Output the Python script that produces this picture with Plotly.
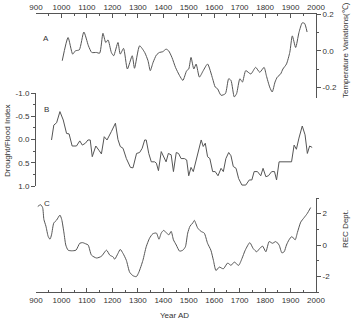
import plotly.graph_objects as go

# Panel A: temperature variations (°C)
years_a = [1003, 1026, 1044, 1055, 1070, 1088, 1106, 1119, 1137, 1150, 1163, 1174, 1183, 1196, 1205,
           1222, 1231, 1244, 1259, 1278, 1287, 1307, 1327, 1340, 1349, 1360, 1373, 1385, 1398, 1411,
           1421, 1434, 1448, 1464, 1477, 1492, 1500, 1509, 1520, 1529, 1542, 1557, 1574, 1594, 1604,
           1613, 1627, 1644, 1657, 1666, 1679, 1688, 1701, 1711, 1724, 1744, 1763, 1779, 1796, 1805,
           1818, 1828, 1839, 1848, 1861, 1870, 1884, 1897, 1907, 1920, 1933, 1946, 1955, 1965]
temp_a = [-0.054, 0.072, -0.018, 0.0, 0.005, 0.102, 0.027, -0.009, -0.009, -0.013, 0.095, 0.045, 0.059, -0.009, -0.027,
          0.045, -0.018, 0.013, -0.099, -0.027, -0.095, 0.027, -0.009, -0.054, -0.108, -0.063, -0.023, -0.009, -0.005, 0.009,
          0.0, -0.036, -0.090, -0.135, -0.161, -0.108, -0.099, -0.036, -0.099, -0.072, -0.143, -0.108, -0.072, -0.152, -0.197,
          -0.206, -0.242, -0.233, -0.152, -0.161, -0.251, -0.233, -0.152, -0.170, -0.108, -0.126, -0.090, -0.117, -0.090, -0.135,
          -0.197, -0.224, -0.170, -0.143, -0.126, -0.099, -0.072, -0.009, 0.081, 0.018, 0.099, 0.152, 0.149, 0.102]

# Panel B: drought/flood index
years_b = [961, 970, 981, 994, 1007, 1020, 1030, 1042, 1059, 1072, 1082, 1094, 1104, 1113, 1121, 1135, 1147, 1157,
           1168, 1179, 1196, 1212, 1222, 1231, 1242, 1255, 1271, 1281, 1295, 1307, 1317, 1327, 1333, 1343, 1353,
           1366, 1373, 1381, 1392, 1401, 1411, 1420, 1431, 1440, 1451, 1460, 1470, 1483, 1492, 1500, 1509, 1518,
           1529, 1539, 1549, 1557, 1565, 1574, 1583, 1594, 1604, 1615, 1627, 1636, 1646, 1657, 1666, 1675, 1686,
           1696, 1709, 1724, 1738, 1748, 1757, 1770, 1783, 1792, 1803, 1813, 1826, 1837, 1845, 1855, 1868, 1904,
           1914, 1923, 1933, 1946, 1957, 1966, 1975, 1985]
index_b = [0.01, -0.31, -0.36, -0.60, -0.42, -0.13, -0.12, 0.14, 0.14, 0.03, 0.12, 0.08, 0.01, 0.01, 0.37, 0.14, 0.23, 0.31,
           -0.06, 0.01, -0.17, -0.35, 0.0, 0.15, 0.19, 0.41, 0.60, 0.61, 0.30, 0.28, 0.19, 0.01, 0.01, 0.30, 0.48,
           0.48, 0.51, 0.67, 0.26, 0.37, 0.48, 0.30, 0.33, 0.69, 0.28, 0.30, 0.41, 0.41, 0.44, 0.78, 0.60, 0.69,
           0.44, 0.26, 0.01, 0.15, 0.08, 0.37, 0.41, 0.69, 0.69, 0.78, 0.62, 0.69, 0.41, 0.28, 0.35, 0.58, 0.62,
           0.84, 0.98, 0.98, 0.87, 0.87, 0.69, 0.69, 0.78, 0.62, 0.80, 0.78, 0.69, 0.69, 0.87, 0.48, 0.48, 0.48,
           0.12, 0.21, -0.03, -0.29, -0.10, 0.30, 0.14, 0.17]

# Panel C: REC departures
years_c = [907, 918, 926, 931, 939, 948, 955, 961, 970, 981, 994, 1001, 1010, 1017, 1026, 1040, 1057, 1072, 1083,
           1096, 1105, 1118, 1138, 1157, 1177, 1190, 1203, 1209, 1222, 1231, 1242, 1255, 1268, 1281, 1294, 1304,
           1320, 1333, 1346, 1359, 1373, 1383, 1392, 1401, 1411, 1422, 1431, 1440, 1451, 1464, 1477, 1487, 1496,
           1505, 1516, 1522, 1535, 1548, 1561, 1574, 1587, 1597, 1607, 1620, 1636, 1653, 1666, 1679, 1696, 1709,
           1722, 1740, 1753, 1767, 1779, 1790, 1803, 1816, 1829, 1842, 1855, 1866, 1875, 1884, 1894, 1905, 1918,
           1927, 1940, 1953, 1966, 1979]
rec_c = [2.46, 2.57, 2.39, 1.63, 1.20, 0.54, 0.37, 0.65, 1.41, 1.59, 1.91, 1.63, 0.76, 0.0, -0.33, -0.37, -0.33, 0.11, 0.15,
         0.07, 0.0, -0.65, -0.83, -0.72, -0.33, -0.65, -0.76, -0.91, -0.54, -0.28, -0.54, -0.98, -1.74, -1.96, -2.02, -1.74,
         -0.98, -0.11, 0.43, 0.72, 0.76, 0.37, 0.76, 0.93, 0.80, 0.65, 0.87, 0.33, 0.0, -0.39, -0.33, -0.11, 0.76,
         1.20, 1.41, 1.57, 1.09, 0.87, 0.76, 0.11, -0.33, -0.98, -1.63, -1.41, -1.52, -1.15, -1.30, -1.09, -1.30, -0.87,
         -0.33, 0.15, -0.22, -0.43, -0.22, -0.07, -0.43, 0.22, 0.11, 0.22, 0.0, -0.50, -0.43, 0.0, 0.33, 0.54, 0.33,
         0.80, 1.46, 1.74, 2.02, 2.39]

x_ticks = [900, 1000, 1100, 1200, 1300, 1400, 1500, 1600, 1700, 1800, 1900, 2000]

W, H = 352, 320
ML, MR, MT, MB = 36, 36, 14, 28
PH = H - MT - MB


def py(y_px):
    return (H - MB - y_px) / PH


def px(x_px):
    return (x_px - ML) / (W - ML - MR)


LINE = "#555555"
TXT = "#333333"
FONT = "Arial, Liberation Sans, sans-serif"
lw = 1.0

fig = go.Figure()
fig.add_trace(go.Scatter(x=years_a, y=temp_a, xaxis="x2", yaxis="y", mode="lines",
                         line=dict(color=LINE, width=lw, shape="spline", smoothing=0.6), showlegend=False))
fig.add_trace(go.Scatter(x=years_b, y=index_b, xaxis="x", yaxis="y2", mode="lines",
                         line=dict(color=LINE, width=lw), showlegend=False))
fig.add_trace(go.Scatter(x=years_c, y=rec_c, xaxis="x", yaxis="y3", mode="lines",
                         line=dict(color=LINE, width=lw, shape="spline", smoothing=0.6), showlegend=False))

tickfont = dict(family=FONT, size=8, color=TXT)
common = dict(showgrid=False, zeroline=False, showline=True, linecolor=LINE, linewidth=1,
              tickcolor=LINE, tickfont=tickfont, automargin=False)

xcommon = dict(range=[900, 2000], tickvals=x_ticks, ticktext=[str(v) for v in x_ticks],
               ticks="inside", ticklen=4, tickwidth=1,
               minor=dict(dtick=50, tick0=900, ticks="inside", ticklen=2, tickcolor=LINE),
               domain=[0, 1], **common)

fig.update_layout(
    width=W, height=H,
    margin=dict(l=ML, r=MR, t=MT, b=MB, pad=0),
    paper_bgcolor="white", plot_bgcolor="rgba(0,0,0,0)",
    xaxis=dict(anchor="y3", side="bottom", **xcommon),
    xaxis2=dict(anchor="y", side="top", **xcommon),
    yaxis=dict(anchor="x2", side="right", domain=[py(97.7), 1], range=[-0.255, 0.2],
               tickvals=[-0.2, 0.0, 0.2], ticktext=["-0.2", "0.0", "0.2"],
               ticks="outside", ticklen=4,
               minor=dict(dtick=0.1, tick0=0, ticks="outside", ticklen=2, tickcolor=LINE), **common),
    yaxis2=dict(anchor="x", side="left", domain=[py(186), py(93)], range=[1.0, -1.0],
                tickvals=[-1.0, -0.5, 0.0, 0.5, 1.0], ticktext=["-1.0", "-0.5", "0.0", "0.5", "1.0"],
                ticks="outside", ticklen=4,
                minor=dict(dtick=0.25, tick0=0, ticks="outside", ticklen=2, tickcolor=LINE), **common),
    yaxis3=dict(anchor="x", side="right", domain=[0, py(198)], range=[-3, 3],
                tickvals=[-2, 0, 2], ticktext=["-2", "0", "2"],
                ticks="outside", ticklen=4,
                minor=dict(dtick=1, tick0=0, ticks="outside", ticklen=2, tickcolor=LINE), **common),
)

tfont = dict(family=FONT, size=8, color=TXT)
ann = [
    dict(text="A", x=px(46), y=py(38)),
    dict(text="B", x=px(46), y=py(109)),
    dict(text="C", x=px(47), y=py(203)),
    dict(text="Year AD", x=px(174), y=py(315)),
    dict(text="Drought/Flood Index", x=px(7), y=py(140), textangle=-90),
    dict(text="Temperature Variations(℃)", x=px(346), y=py(50), textangle=-90),
    dict(text="REC Dept.", x=px(345), y=py(229), textangle=-90),
]
for a in ann:
    fig.add_annotation(xref="paper", yref="paper", showarrow=False, font=tfont,
                       xanchor="center", yanchor="middle", **a)

fig.write_html("out.html")
